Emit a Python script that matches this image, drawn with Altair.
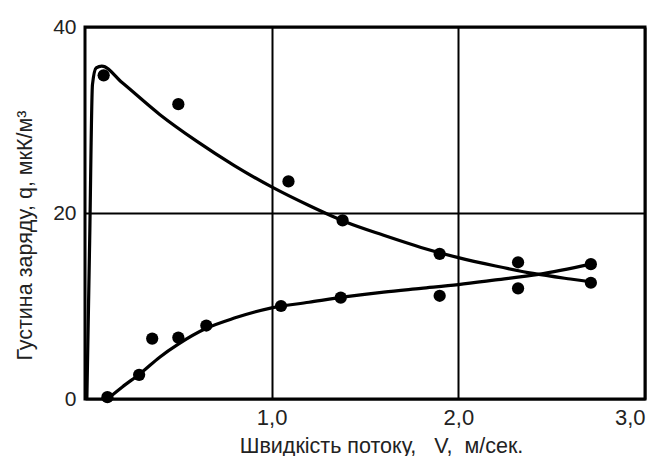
import altair as alt
import pandas as pd

# measured points
rise_x = [0.12, 0.29, 0.36, 0.50, 0.65, 1.05, 1.37, 1.90, 2.32, 2.71]
rise_y = [0.2, 2.6, 6.5, 6.6, 7.9, 10.0, 10.9, 11.1, 11.9, 14.5]
fall_x = [0.10, 0.50, 1.09, 1.38, 1.90, 2.32, 2.71]
fall_y = [34.8, 31.7, 23.4, 19.2, 15.6, 14.7, 12.5]

# fitted curves
rise_cx = [0.12, 0.20, 0.30, 0.40, 0.50, 0.65, 0.80, 1.00, 1.20, 1.40, 1.60, 1.80, 2.00, 2.20, 2.43, 2.71]
rise_cy = [0.0, 1.3, 2.8, 4.5, 5.9, 7.6, 8.7, 9.8, 10.4, 11.0, 11.5, 11.9, 12.3, 12.8, 13.4, 14.5]
fall_cx = [0.01, 0.025, 0.04, 0.06, 0.09, 0.20, 0.40, 0.60, 0.80, 1.00, 1.20, 1.40, 1.60, 1.80, 2.00, 2.20, 2.40, 2.60, 2.71]
fall_cy = [0.0, 17.0, 33.8, 35.6, 35.8, 34.0, 30.6, 27.7, 25.1, 22.8, 20.8, 19.0, 17.6, 16.3, 15.2, 14.3, 13.5, 12.9, 12.6]

pts = pd.DataFrame({"x": rise_x + fall_x, "y": rise_y + fall_y})
curves = pd.DataFrame({
    "x": rise_cx + fall_cx,
    "y": rise_cy + fall_cy,
    "s": ["rise"] * len(rise_cx) + ["fall"] * len(fall_cx),
    "o": list(range(len(rise_cx))) + list(range(len(fall_cx))),
})

xscale = alt.Scale(domain=[0, 3], nice=False, zero=False)
yscale = alt.Scale(domain=[0, 40], nice=False)

NB = "\u00a0"
x_title = "Швидкість потоку," + NB * 3 + "V," + NB * 2 + "м/сек."

xax = alt.Axis(values=[1, 2, 3], grid=True, gridColor="black", gridWidth=2, gridOpacity=1,
               ticks=False, domain=False,
               labelExpr="replace(format(datum.value,'.1f'),'.',',')",
               labelFont="Liberation Sans", labelFontSize=22, labelColor="#222", labelPadding=8,
               title=x_title, titleFont="Liberation Sans", titleX=296, titleAlign="center",
               titleFontSize=21.5, titleFontWeight="normal", titleColor="#222", titlePadding=7)
yax = alt.Axis(values=[0, 20, 40], grid=True, gridColor="black", gridWidth=2, gridOpacity=1,
               ticks=False, domain=False,
               labelFont="Liberation Sans", labelFontSize=21, labelColor="#222", labelPadding=9,
               title="Густина заряду, q, мкК/м³", titleFont="Liberation Sans",
               titleY=208, titleAlign="center",
               titleFontSize=21.5, titleFontWeight="normal", titleColor="#222", titlePadding=16)

lines = alt.Chart(curves).mark_line(color="black", strokeWidth=3.2, interpolate="monotone").encode(
    x=alt.X("x:Q", scale=xscale, axis=xax),
    y=alt.Y("y:Q", scale=yscale, axis=yax),
    detail="s:N",
    order="o:Q",
)
dots = alt.Chart(pts).mark_circle(color="black", opacity=1, size=150).encode(
    x=alt.X("x:Q", scale=xscale),
    y=alt.Y("y:Q", scale=yscale),
)

chart = alt.layer(lines, dots).properties(
    width=560, height=372,
    autosize=alt.AutoSizeParams(type="none"),
    padding={"left": 77, "top": 19, "right": 13, "bottom": 57},
).configure_view(stroke="black", strokeWidth=3)

chart.save("out.html", embed_options={"renderer": "svg", "actions": False})
